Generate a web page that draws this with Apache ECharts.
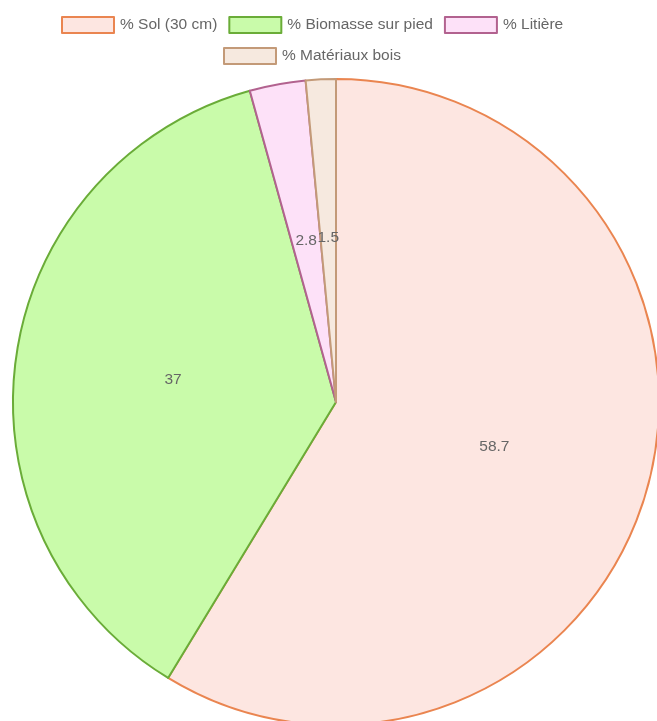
<!DOCTYPE html>
<html>
<head>
<meta charset="utf-8">
<script src="https://cdn.jsdelivr.net/npm/echarts@6/dist/echarts.min.js"></script>
<style>
  html, body { margin: 0; padding: 0; background: #ffffff; }
  #chart { width: 657px; height: 721px; }
</style>
</head>
<body>
<div id="chart"></div>
<script>
// Répartition du carbone (%)
const categories = ['% Sol (30 cm)', '% Biomasse sur pied', '% Litière', '% Matériaux bois'];
const values = [58.7, 37, 2.8, 1.5];
const fillColors = ['#fde6e1', '#c9fbaa', '#fde1f8', '#f6e9df'];
const borderColors = ['#ea8550', '#6aac38', '#b2628f', '#c39a78'];

const FONT = '"Liberation Sans", Arial, Helvetica, sans-serif';

const pieData = categories.map((name, i) => ({
  name: name,
  value: values[i],
  itemStyle: { color: fillColors[i], borderColor: borderColors[i], borderWidth: 2 }
}));

const legendCommon = {
  orient: 'horizontal',
  icon: 'rect',
  itemWidth: 52,
  itemHeight: 16,
  itemGap: 11,
  selectedMode: false,
  textStyle: { color: '#666666', fontSize: 15.5, fontFamily: FONT, padding: [0, 0, 0, 1] }
};

const chart = echarts.init(document.getElementById('chart'), null, { renderer: 'canvas' });
chart.setOption({
  backgroundColor: '#ffffff',
  animation: false,
  legend: [
    Object.assign({}, legendCommon, { left: 56, top: 11, data: categories.slice(0, 3) }),
    Object.assign({}, legendCommon, { left: 218, top: 42, data: categories.slice(3) })
  ],
  series: [{
    type: 'pie',
    center: [336, 402],
    radius: [0, 323],
    startAngle: 90,
    clockwise: true,
    avoidLabelOverlap: false,
    minShowLabelAngle: 0,
    label: {
      show: true,
      position: 'inside',
      formatter: p => String(p.value),
      color: '#666666',
      fontSize: 15.5,
      fontFamily: FONT
    },
    labelLine: { show: false },
    emphasis: { disabled: true },
    data: pieData
  }]
});
</script>
</body>
</html>
